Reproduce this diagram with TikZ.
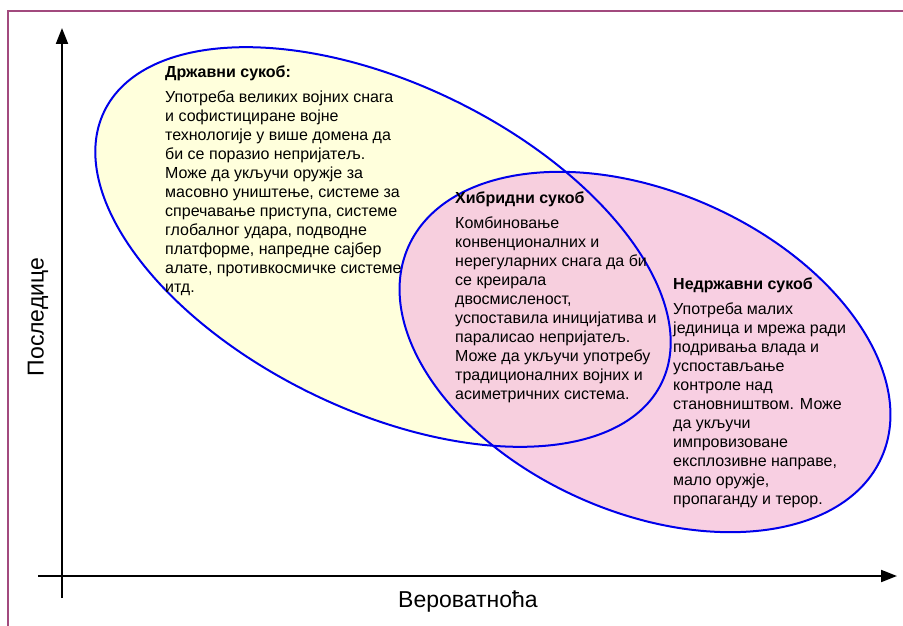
\documentclass[tikz,border=0pt]{standalone}
\usepackage{fontspec}
\setmainfont{Liberation Sans}
\usetikzlibrary{arrows.meta}
\definecolor{framecol}{HTML}{A24A7E}
\definecolor{hatchyellow}{HTML}{FFFFDC}
\definecolor{hatchpink}{HTML}{F7CADF}
\begin{document}
\begin{tikzpicture}[x=1pt,y=-1pt]
		\tikzstyle{axis} = [line width=2pt,-{Triangle[length=16pt,width=12pt]}]
		\tikzstyle{blobline} = [line width=2pt,draw={rgb,255:red,0;green,0;blue,235}]
		\tikzstyle{blobtext} = [anchor=north west,inner sep=0pt,align=left,font=\fontsize{16}{19}\selectfont]
		\tikzstyle{axislabel} = [font=\fontsize{23}{26}\selectfont]
		\useasboundingbox (0,0) rectangle (903,626);
		\draw[framecol,line width=2pt] (8,11) rectangle (920,640);
		\fill[hatchyellow,rotate around={-26:(383,247)}] (383,247) ellipse [x radius=310,y radius=163];
		\fill[hatchpink,opacity=0.9,rotate around={-24:(645,352)}] (645,352) ellipse [x radius=259,y radius=160];
		\draw[blobline,rotate around={-26:(383,247)}] (383,247) ellipse [x radius=310,y radius=163];
		\draw[blobline,rotate around={-24:(645,352)}] (645,352) ellipse [x radius=259,y radius=160];
		\coordinate (yfoot) at (62,598);
		\coordinate (ytip) at (62,28);
		\coordinate (xfoot) at (38,576);
		\coordinate (xtip) at (897,576);
		\draw[axis] (yfoot) -- (ytip);
		\draw[axis] (xfoot) -- (xtip);
		\node[axislabel,rotate=90] (posledice) at (38,317) {Последице};
		\node[axislabel] (verovatnoca) at (468,602) {Вероватноћа};
		\node[blobtext] (drzavni) at (165,66) {\textbf{Државни сукоб:}\\[6pt]
			Употреба великих војних снага\\
			и софистициране војне\\
			технологије у више домена да\\
			би се поразио непријатељ.\\
			Може да укључи оружје за\\
			масовно уништење, системе за\\
			спречавање приступа, системе\\
			глобалног удара, подводне\\
			платформе, напредне сајбер\\
			алате, противкосмичке системе\\
			итд.};
		\node[blobtext] (hibridni) at (455,192) {\textbf{Хибридни сукоб}\\[6pt]
			Комбиновање\\
			конвенционалних и\\
			нерегуларних снага да би\\
			се креирала\\
			двосмисленост,\\
			успоставила иницијатива и\\
			паралисао непријатељ.\\
			Може да укључи употребу\\
			традиционалних војних и\\
			асиметричних система.};
		\node[blobtext] (nedrzavni) at (673,278) {\textbf{Недржавни сукоб}\\[6pt]
			Употреба малих\\
			јединица и мрежа ради\\
			подривања влада и\\
			успостављање\\
			контроле над\\
			становништвом. Може\\
			да укључи\\
			импровизоване\\
			експлозивне направе,\\
			мало оружје,\\
			пропаганду и терор.};
	\end{tikzpicture}
\end{document}
